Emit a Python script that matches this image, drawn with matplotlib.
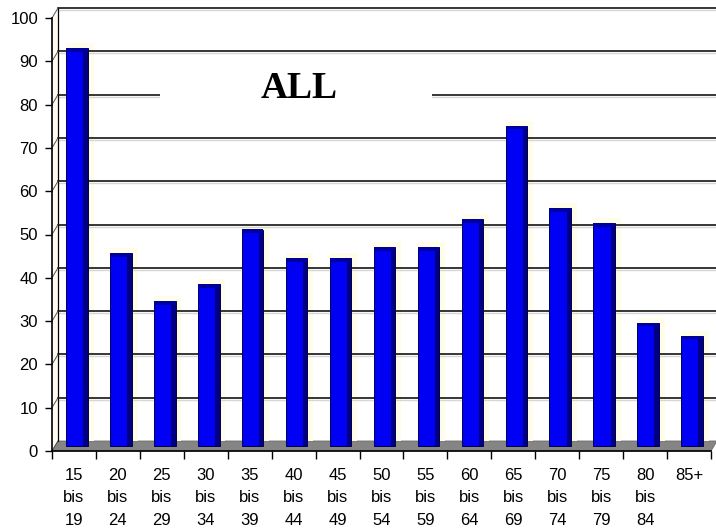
import numpy as np
import matplotlib
matplotlib.use('Agg')
import matplotlib.pyplot as plt
from matplotlib.patches import Polygon, Rectangle
from matplotlib.transforms import offset_copy, IdentityTransform

plt.rcParams['font.family'] = ['Liberation Sans', 'DejaVu Sans']

# age groups and counts
age_from = ['15', '20', '25', '30', '35', '40', '45', '50', '55', '60', '65', '70', '75', '80', '85+']
age_to = ['19', '24', '29', '34', '39', '44', '49', '54', '59', '64', '69', '74', '79', '84', '']
counts = [92, 44.5, 33.5, 37.5, 50, 43.5, 43.5, 46, 46, 52.5, 74, 55, 51.5, 28.5, 25.5]
y_ticks = list(range(0, 101, 10))
title = 'ALL'

labels = [f'{a}\nbis\n{b}' if b else a for a, b in zip(age_from, age_to)]
n = len(counts)
xs = np.arange(n) + 0.5

fig = plt.figure(figsize=(7.16, 5.31), dpi=100)
ax = fig.add_axes([52 / 716, 80 / 531, 659 / 716, 433 / 531])
ax.set_xlim(0, n)
ax.set_ylim(0, 100)
ax.set_facecolor('none')

# fake 3d: back wall sits a few pixels up/right, bars halfway in between
back = offset_copy(ax.transData, fig=fig, x=6, y=10, units='dots')
shade = offset_copy(ax.transData, fig=fig, x=6, y=8, units='dots')
mid = offset_copy(ax.transData, fig=fig, x=3, y=5, units='dots')
ident = IdentityTransform()


def disp(x, y, t):
    return t.transform((x, y))


# floor
floor = [disp(0, 0, ax.transData), disp(n, 0, ax.transData),
         disp(n, 0, back), disp(0, 0, back)]
ax.add_patch(Polygon(floor, closed=True, transform=ident, facecolor='#858585',
                     edgecolor='#6a6a6a', lw=0.6, zorder=1, clip_on=False))

# left side wall
wall = [disp(0, 0, ax.transData), disp(0, 100, ax.transData),
        disp(0, 100, back), disp(0, 0, back)]
ax.add_patch(Polygon(wall, closed=True, transform=ident, facecolor='#fffdf2',
                     edgecolor='none', zorder=0.9, clip_on=False))
for v in y_ticks:
    p0 = disp(0, v, ax.transData)
    p1 = disp(0, v, back)
    ax.plot([p0[0], p1[0]], [p0[1], p1[1]], transform=ident, color='#555555',
            lw=0.7, zorder=1.8, clip_on=False)

# faint shadows of the bars on the back wall
ax.bar(xs, counts, width=0.62, color='#fffdea', transform=back, zorder=1.2, clip_on=False)

# gridlines on the back wall
for v in y_ticks[1:]:
    ax.plot([0, n], [v, v], transform=shade, color='#d6d6d6', lw=1.0, zorder=1.6, clip_on=False)
    ax.plot([0, n], [v, v], transform=back, color='black', lw=1.1, zorder=1.7, clip_on=False)
ax.plot([0, 0], [0, 100], transform=back, color='black', lw=0.9, zorder=1.7, clip_on=False)

# title on a white patch across the 80 line
ax.add_patch(Rectangle((2.32, 73), 6.19, 14, transform=back, facecolor='white',
                       edgecolor='none', zorder=2.5, clip_on=False))
ax.text(5.48, 79.2, title, transform=back, ha='center', va='baseline',
        fontfamily='Liberation Serif', fontweight='bold', fontsize=27, zorder=2.6)

# bars
ax.bar(xs, counts, width=0.49, color='#0000f5', edgecolor='#000050', lw=0.7,
       transform=mid, zorder=4, clip_on=False)
ax.bar(xs + 0.195, counts, width=0.10, color='#000080', transform=mid, zorder=4.1, clip_on=False)
ax.bar(xs, [0.9] * n, bottom=np.array(counts) - 0.9, width=0.49, color='#00009c',
       transform=mid, zorder=4.2, clip_on=False)

# axes
for side in ['top', 'right']:
    ax.spines[side].set_visible(False)
ax.spines['left'].set_linewidth(1.2)
ax.spines['bottom'].set_linewidth(1.2)
ax.spines['left'].set_zorder(5)
ax.spines['bottom'].set_zorder(5)

ax.set_yticks(y_ticks)
ax.tick_params(axis='y', direction='out', length=5, width=1, pad=5, labelsize=12)
ax.set_xticks(np.arange(n + 1))
ax.set_xticklabels([])
ax.set_xticks(xs, labels, minor=True)
ax.tick_params(axis='x', which='major', direction='out', length=6, width=1)
ax.tick_params(axis='x', which='minor', length=0, pad=12, labelsize=12)
for t in ax.get_xticklabels(minor=True):
    t.set_linespacing(1.62)
    t.set_verticalalignment('top')

fig.savefig('out.png', dpi=100)
